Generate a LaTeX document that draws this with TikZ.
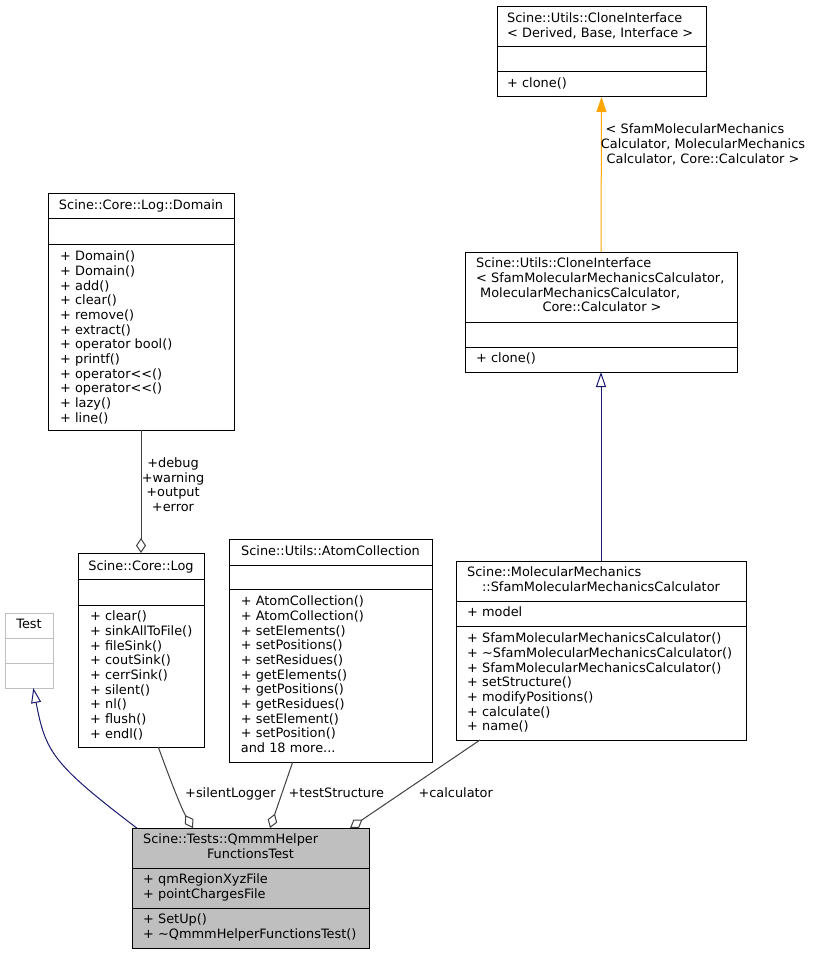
\documentclass[tikz,border=0pt]{standalone}
\usepackage{fontspec}
\setmainfont{DejaVu Sans}
\usetikzlibrary{arrows.meta}
\definecolor{edgegray}{HTML}{404040}
\definecolor{inhblue}{HTML}{191970}
\definecolor{boxgray}{HTML}{BFBFBF}
\definecolor{tmplorange}{HTML}{FFA500}
\newcommand\fs{\fontsize{12.9}{14.67}\selectfont}
% name, x1, y1, x2, y2, sep1, sep2, draw colour, fill colour
\newcommand\classbox[9]{%
  \node[draw=#8, fill=#9, line width=1pt, inner sep=0pt, outer sep=0pt,
        minimum width={(#4)-(#2)}, minimum height={(#5)-(#3)}]
        (#1) at ({((#2)+(#4))/2},{((#3)+(#5))/2}) {};
  \draw[draw=#8, line width=1pt] (#2,#6) -- (#4,#6);
  \draw[draw=#8, line width=1pt] (#2,#7) -- (#4,#7);
}
\begin{document}
\begin{tikzpicture}[x=1pt,y=-1pt,
  tx/.style={font=\fs, inner sep=0pt, align=left, anchor=north west},
  txc/.style={font=\fs, inner sep=0pt, align=center, anchor=north},
  aggr/.style={draw=edgegray, line width=1pt, -{Diamond[fill=white,length=15pt,width=10pt]}},
  inh/.style={draw=inhblue, line width=1pt, -{Triangle[open,length=15pt,width=10pt]}},
  tmpl/.style={draw=tmplorange, line width=1pt, -{Triangle[length=15pt,width=10pt]}}]
\path[use as bounding box, fill=white] (0,0) rectangle (812,955);

% ---- boxes
\classbox{cloneA}{497}{7}{706}{97}{47}{72}{black}{white}
\classbox{cloneB}{465}{252}{737}{372}{322}{347}{black}{white}
\classbox{sfam}{456}{561}{746}{740}{601}{626}{black}{white}
\classbox{domain}{48}{193}{234}{430}{218}{244}{black}{white}
\classbox{log}{78}{553}{204}{747}{579}{605}{black}{white}
\classbox{atom}{229}{539}{432}{762}{565}{589}{black}{white}
\classbox{test}{5}{613}{53}{688}{638}{663}{boxgray}{white}
\classbox{main}{132}{828}{369}{948}{868}{908}{black}{boxgray}

% ---- texts
\node[tx] (a-t) at (507,12.5) {\strut Scine::Utils::CloneInterface\\\strut < Derived, Base, Interface >};
\node[tx] (a-m) at (507,77.5) {\strut + clone()};

\node[tx] (b-t) at (476,257.5) {\strut Scine::Utils::CloneInterface\\\strut < SfamMolecularMechanicsCalculator,\\\strut\hspace*{4pt}MolecularMechanicsCalculator,};
\node[txc] (b-t4) at (602,300.9) {\strut Core::Calculator >};
\node[tx] (b-m) at (476,352.5) {\strut + clone()};

\node[tx] (c-t1) at (467,566.5) {\strut Scine::MolecularMechanics};
\node[txc] (c-t2) at (601,581.5) {\strut ::SfamMolecularMechanicsCalculator};
\node[tx] (c-a) at (467,606.5) {\strut + model};
\node[tx] (c-m) at (467,632.5) {\strut + SfamMolecularMechanicsCalculator()\\\strut + \textasciitilde SfamMolecularMechanicsCalculator()\\\strut + SfamMolecularMechanicsCalculator()\\\strut + setStructure()\\\strut + modifyPositions()\\\strut + calculate()\\\strut + name()};

\node[txc] (d-t) at (141,199.2) {\strut Scine::Core::Log::Domain};
\node[tx] (d-m) at (60,250.2) {\strut + Domain()\\\strut + Domain()\\\strut + add()\\\strut + clear()\\\strut + remove()\\\strut + extract()\\\strut + operator bool()\\\strut + printf()\\\strut + operator<{}<()\\\strut + operator<{}<()\\\strut + lazy()\\\strut + line()};

\node[txc] (e-t) at (141,559.9) {\strut Scine::Core::Log};
\node[tx] (e-m) at (90,610.2) {\strut + clear()\\\strut + sinkAllToFile()\\\strut + fileSink()\\\strut + coutSink()\\\strut + cerrSink()\\\strut + silent()\\\strut + nl()\\\strut + flush()\\\strut + endl()};

\node[txc] (f-t) at (330.5,544.9) {\strut Scine::Utils::AtomCollection};
\node[tx] (f-m) at (240.7,595.2) {\strut + AtomCollection()\\\strut + AtomCollection()\\\strut + setElements()\\\strut + setPositions()\\\strut + setResidues()\\\strut + getElements()\\\strut + getPositions()\\\strut + getResidues()\\\strut + setElement()\\\strut + setPosition()\\\strut and 18 more...};

\node[txc] (g-t) at (29,618.5) {\strut Test};

\node[tx] (h-t1) at (143,833.5) {\strut Scine::Tests::QmmmHelper};
\node[txc] (h-t2) at (250.5,848.5) {\strut FunctionsTest};
\node[tx] (h-a) at (143,873.5) {\strut + qmRegionXyzFile\\\strut + pointChargesFile};
\node[tx] (h-m) at (143,913.5) {\strut + SetUp()\\\strut + \textasciitilde QmmmHelperFunctionsTest()};

% ---- edges
\draw[tmpl] (cloneB.north) -- (cloneA.south);
\draw[inh] (sfam.north) -- (cloneB.south);
\draw[aggr] (domain.south) -- (log.north);
\draw[inh] ([xshift=4.7pt]main.north west) .. controls (52.4,763.7) and (45.6,752) .. ([xshift=28.3pt]test.south west);
\draw[aggr] ([xshift=80.3pt]log.south west) .. controls (167.3,772) and (181,808) .. ([xshift=61pt]main.north west);
\draw[aggr] ([xshift=63.7pt]atom.south west) -- ([xshift=138pt]main.north west);
\draw[aggr] ([xshift=24pt]sfam.south west) -- ([xshift=218pt]main.north west);

% ---- edge labels
\node[txc] (l-tmpl) at (703,123.5) {\strut < SfamMolecularMechanics\hspace*{16pt}\\\strut Calculator, MolecularMechanics\\\strut Calculator, Core::Calculator >};
\node[txc] (l-dom) at (173,456.9) {\strut +debug\\\strut +warning\\\strut +output\\\strut +error};
\node[tx] (l-sl) at (185,787.5) {\strut +silentLogger};
\node[tx] (l-ts) at (288.3,787.5) {\strut +testStructure};
\node[tx] (l-calc) at (418.3,787.5) {\strut +calculator};
\end{tikzpicture}
\end{document}
